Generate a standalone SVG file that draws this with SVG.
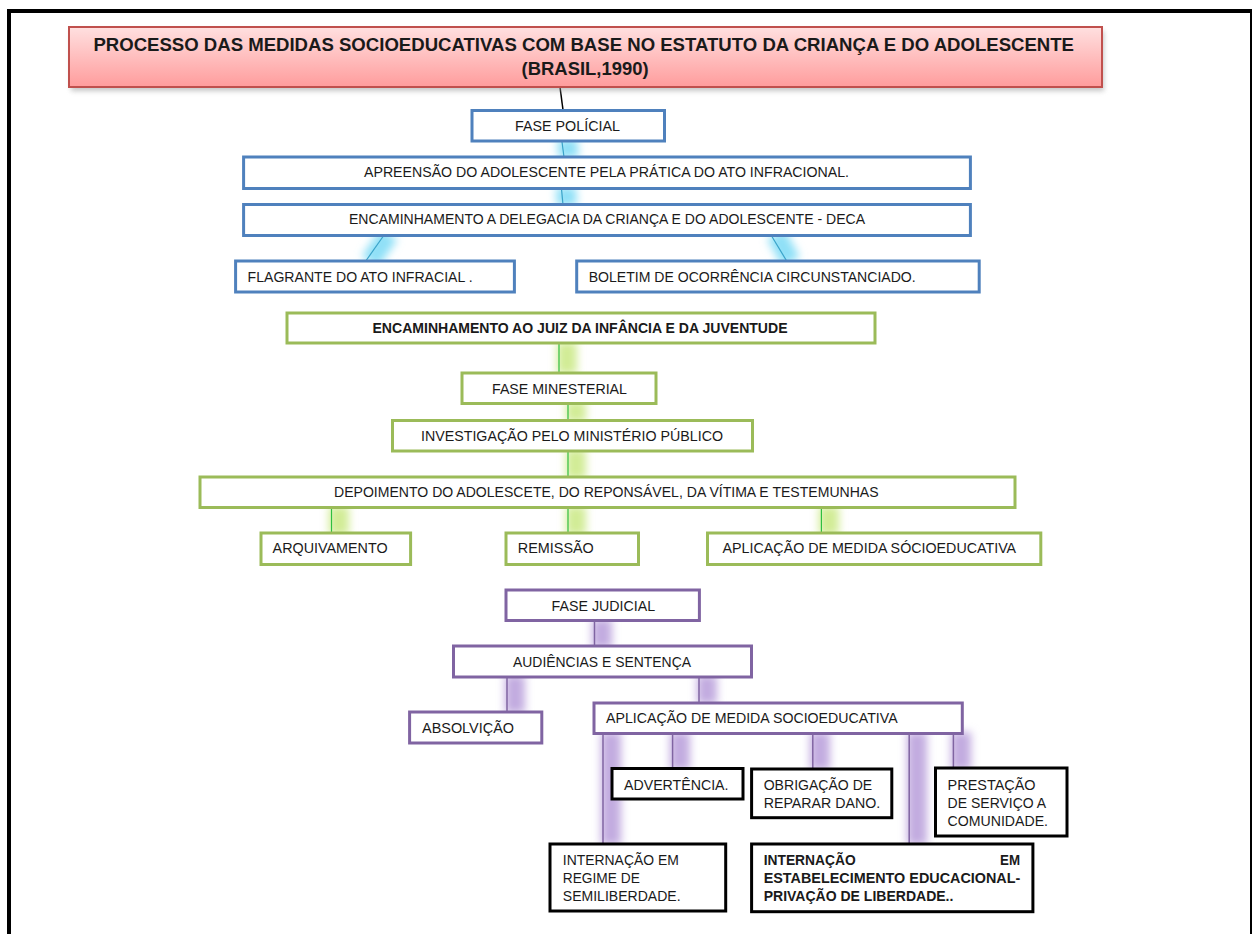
<svg xmlns="http://www.w3.org/2000/svg" width="1252" height="934" viewBox="0 0 1252 934">
<defs>
<linearGradient id="tg" x1="0" y1="0" x2="0" y2="1">
<stop offset="0" stop-color="#ffe0e0"/>
<stop offset="1" stop-color="#ff9c9c"/>
</linearGradient>
<filter id="blur" filterUnits="userSpaceOnUse" x="0" y="0" width="1252" height="934"><feGaussianBlur stdDeviation="4"/></filter>
<filter id="sh" x="-0.1" y="-0.3" width="1.2" height="1.8"><feGaussianBlur stdDeviation="2.5"/></filter>
</defs>
<style>
text{font-family:"Liberation Sans",Arial,sans-serif;font-size:15px;fill:#1a1a1a}
.b{font-weight:bold}
.bl{fill:#fff;stroke:#4f81bd;stroke-width:3}
.gr{fill:#fff;stroke:#9bbb59;stroke-width:3}
.pu{fill:#fff;stroke:#8064a2;stroke-width:3}
.bk{fill:#fff;stroke:#000;stroke-width:3}
.gb{stroke:#8fe0f7;stroke-width:20;fill:none;filter:url(#blur)}
.gg{stroke:#d2ec96;stroke-width:20;fill:none;filter:url(#blur)}
.gp{stroke:#c2ace0;stroke-width:20;fill:none;filter:url(#blur)}
.lb{stroke:#3aa3c9;stroke-width:1.2;fill:none}
.lg{stroke:#2fbf3f;stroke-width:1.2;fill:none}
.lp{stroke:#8064a2;stroke-width:1.5;fill:none}
</style>
<rect width="1252" height="934" fill="#fff"/>
<g id="frame">
<rect x="7" y="9" width="4" height="925" fill="#000"/>
<rect x="7" y="9" width="1245" height="4" fill="#000"/>
<rect x="1250" y="9" width="2" height="925" fill="#000"/>
</g>
<g id="connectors">
<line x1="560" y1="87" x2="563" y2="110" stroke="#000" stroke-width="1.5"/>
<line class="gb" x1="567" y1="139" x2="569" y2="158"/>
<line class="lb" x1="562" y1="142" x2="564" y2="157"/>
<line class="gb" x1="566" y1="187" x2="567" y2="206"/>
<line class="lb" x1="561.5" y1="189" x2="563" y2="205"/>
<line class="gb" x1="389" y1="234" x2="370" y2="262"/>
<line class="lb" x1="383.4" y1="236" x2="365.8" y2="261"/>
<line class="gb" x1="776" y1="234" x2="791" y2="262"/>
<line class="lb" x1="771.6" y1="236" x2="786.7" y2="261"/>
<line class="gg" x1="567" y1="342" x2="567" y2="374"/>
<line class="lg" x1="559" y1="344" x2="559" y2="372"/>
<line class="gg" x1="576" y1="401" x2="576" y2="422"/>
<line class="lg" x1="568" y1="403" x2="568" y2="420"/>
<line class="gg" x1="576" y1="449" x2="576" y2="479"/>
<line class="lg" x1="568" y1="452" x2="568" y2="477"/>
<line class="gg" x1="339" y1="506" x2="339" y2="535"/>
<line class="lg" x1="331.5" y1="508" x2="331.5" y2="533"/>
<line class="gg" x1="576" y1="506" x2="576" y2="535"/>
<line class="lg" x1="568" y1="508" x2="568" y2="533"/>
<line class="gg" x1="829" y1="506" x2="829" y2="535"/>
<line class="lg" x1="821.4" y1="508" x2="821.4" y2="533"/>
<line class="gp" x1="602" y1="619" x2="602" y2="648"/>
<line class="lp" x1="594.5" y1="621" x2="594.5" y2="646"/>
<line class="gp" x1="515" y1="675" x2="515" y2="713"/>
<line class="lp" x1="507" y1="677" x2="507" y2="711"/>
<line class="gp" x1="707" y1="675" x2="707" y2="704"/>
<line class="lp" x1="699" y1="677" x2="699" y2="702"/>
<line class="gp" x1="611" y1="732" x2="611" y2="845"/>
<line class="lp" x1="603" y1="734" x2="603" y2="844"/>
<line class="gp" x1="680" y1="732" x2="680" y2="770"/>
<line class="lp" x1="672.6" y1="734" x2="672.6" y2="768"/>
<line class="gp" x1="820" y1="732" x2="820" y2="770"/>
<line class="lp" x1="812.8" y1="734" x2="812.8" y2="769"/>
<line class="gp" x1="917" y1="732" x2="917" y2="845"/>
<line class="lp" x1="909.2" y1="734" x2="909.2" y2="844"/>
<line class="gp" x1="961" y1="732" x2="961" y2="770"/>
<line class="lp" x1="953.4" y1="734" x2="953.4" y2="768"/>
</g>
<g id="title">
<rect x="71" y="31" width="1033" height="60" fill="#999" opacity="0.55" filter="url(#sh)"/>
<rect x="69" y="27" width="1033" height="60" fill="url(#tg)" stroke="#c0504d" stroke-width="2"/>
<text class="b" x="93.4" y="51" style="font-size:18px" textLength="980.6" lengthAdjust="spacingAndGlyphs">PROCESSO DAS MEDIDAS SOCIOEDUCATIVAS COM BASE NO ESTATUTO DA CRIANÇA E DO ADOLESCENTE</text>
<text class="b" x="521.6" y="74.5" style="font-size:18px" textLength="127" lengthAdjust="spacingAndGlyphs">(BRASIL,1990)</text>
</g>
<g id="fase-policial">
<rect class="bl" x="472" y="110.5" width="192.5" height="30.5"/>
<text x="515" y="130.7" textLength="105" lengthAdjust="spacingAndGlyphs">FASE POLÍCIAL</text>
</g>
<g id="apreensao">
<rect class="bl" x="243.6" y="157" width="726.8" height="31.5"/>
<text x="364" y="177.3" textLength="485" lengthAdjust="spacingAndGlyphs">APREENSÃO DO ADOLESCENTE PELA PRÁTICA DO ATO INFRACIONAL.</text>
</g>
<g id="delegacia">
<rect class="bl" x="243.6" y="204.5" width="726.8" height="31"/>
<text x="349" y="224.3" textLength="516" lengthAdjust="spacingAndGlyphs">ENCAMINHAMENTO A DELEGACIA DA CRIANÇA E DO ADOLESCENTE - DECA</text>
</g>
<g id="flagrante">
<rect class="bl" x="235.6" y="261" width="278.8" height="31"/>
<text x="247.6" y="281.7" textLength="225" lengthAdjust="spacingAndGlyphs">FLAGRANTE DO ATO INFRACIAL .</text>
</g>
<g id="boletim">
<rect class="bl" x="576.7" y="261" width="402.5" height="31"/>
<text x="588.7" y="281.7" textLength="327" lengthAdjust="spacingAndGlyphs">BOLETIM DE OCORRÊNCIA CIRCUNSTANCIADO.</text>
</g>
<g id="juiz">
<rect class="gr" x="287" y="313" width="588" height="30"/>
<text class="b" x="372.5" y="332.7" textLength="415" lengthAdjust="spacingAndGlyphs">ENCAMINHAMENTO AO JUIZ DA INFÂNCIA E DA JUVENTUDE</text>
</g>
<g id="fase-ministerial">
<rect class="gr" x="462" y="373" width="194" height="30.5"/>
<text x="492" y="394" textLength="135" lengthAdjust="spacingAndGlyphs">FASE MINESTERIAL</text>
</g>
<g id="investigacao">
<rect class="gr" x="392.5" y="420.5" width="360" height="30.5"/>
<text x="421" y="440.7" textLength="302" lengthAdjust="spacingAndGlyphs">INVESTIGAÇÃO PELO  MINISTÉRIO PÚBLICO</text>
</g>
<g id="depoimento">
<rect class="gr" x="200" y="477" width="815" height="30.5"/>
<text x="334" y="497.3" textLength="544.6" lengthAdjust="spacingAndGlyphs">DEPOIMENTO DO ADOLESCETE, DO REPONSÁVEL, DA VÍTIMA E TESTEMUNHAS</text>
</g>
<g id="arquivamento">
<rect class="gr" x="261" y="533" width="149.6" height="31.5"/>
<text x="272.6" y="553.3" textLength="115" lengthAdjust="spacingAndGlyphs">ARQUIVAMENTO</text>
</g>
<g id="remissao">
<rect class="gr" x="506" y="533" width="132.5" height="31.5"/>
<text x="517.8" y="553.3" textLength="76" lengthAdjust="spacingAndGlyphs">REMISSÃO</text>
</g>
<g id="aplicacao-socio-min">
<rect class="gr" x="707.5" y="533" width="333.3" height="31.5"/>
<text x="722.6" y="553.3" textLength="293.5" lengthAdjust="spacingAndGlyphs">APLICAÇÃO DE MEDIDA SÓCIOEDUCATIVA</text>
</g>
<g id="fase-judicial">
<rect class="pu" x="506" y="590" width="193.4" height="30.5"/>
<text x="551.6" y="610.7" textLength="103.5" lengthAdjust="spacingAndGlyphs">FASE JUDICIAL</text>
</g>
<g id="audiencias">
<rect class="pu" x="453.5" y="646" width="298" height="31"/>
<text x="513" y="667.3" textLength="178" lengthAdjust="spacingAndGlyphs">AUDIÊNCIAS E SENTENÇA</text>
</g>
<g id="absolvicao">
<rect class="pu" x="409.6" y="712" width="132.2" height="31"/>
<text x="422" y="732.7" textLength="92" lengthAdjust="spacingAndGlyphs">ABSOLVIÇÃO</text>
</g>
<g id="aplicacao-socio-jud">
<rect class="pu" x="594" y="703" width="368.3" height="30.5"/>
<text x="606" y="723.3" textLength="291.6" lengthAdjust="spacingAndGlyphs">APLICAÇÃO DE MEDIDA SOCIOEDUCATIVA</text>
</g>
<g id="advertencia">
<rect class="bk" x="612" y="768.5" width="131" height="30.5"/>
<text x="624" y="790" textLength="104.5" lengthAdjust="spacingAndGlyphs">ADVERTÊNCIA.</text>
</g>
<g id="obrigacao">
<rect class="bk" x="751.6" y="769" width="140.2" height="48.7"/>
<text x="763.7" y="790" textLength="108.5" lengthAdjust="spacingAndGlyphs">OBRIGAÇÃO DE</text>
<text x="763.7" y="807.7" textLength="116.5" lengthAdjust="spacingAndGlyphs">REPARAR DANO.</text>
</g>
<g id="prestacao">
<rect class="bk" x="935.5" y="768" width="131.5" height="68"/>
<text x="947.6" y="790" textLength="88" lengthAdjust="spacingAndGlyphs">PRESTAÇÃO</text>
<text x="947.6" y="808.3" textLength="98.6" lengthAdjust="spacingAndGlyphs">DE SERVIÇO A</text>
<text x="947.6" y="826" textLength="100.4" lengthAdjust="spacingAndGlyphs">COMUNIDADE.</text>
</g>
<g id="internacao-semi">
<rect class="bk" x="550" y="844" width="175.7" height="67"/>
<text x="562.8" y="865.3" textLength="116" lengthAdjust="spacingAndGlyphs">INTERNAÇÃO EM</text>
<text x="562.8" y="883.3" textLength="77" lengthAdjust="spacingAndGlyphs">REGIME DE</text>
<text x="562.8" y="900.7" textLength="117.8" lengthAdjust="spacingAndGlyphs">SEMILIBERDADE.</text>
</g>
<g id="internacao-estab">
<rect class="bk" x="751.6" y="844" width="281.3" height="67.7"/>
<text class="b" x="763.7" y="865.3" textLength="92" lengthAdjust="spacingAndGlyphs">INTERNAÇÃO</text>
<text class="b" x="1000" y="865.3" textLength="20" lengthAdjust="spacingAndGlyphs">EM</text>
<text class="b" x="763.7" y="883.3" textLength="256.6" lengthAdjust="spacingAndGlyphs">ESTABELECIMENTO   EDUCACIONAL-</text>
<text class="b" x="763.7" y="900.7" textLength="189.7" lengthAdjust="spacingAndGlyphs">PRIVAÇÃO DE LIBERDADE..</text>
</g>
</svg>
